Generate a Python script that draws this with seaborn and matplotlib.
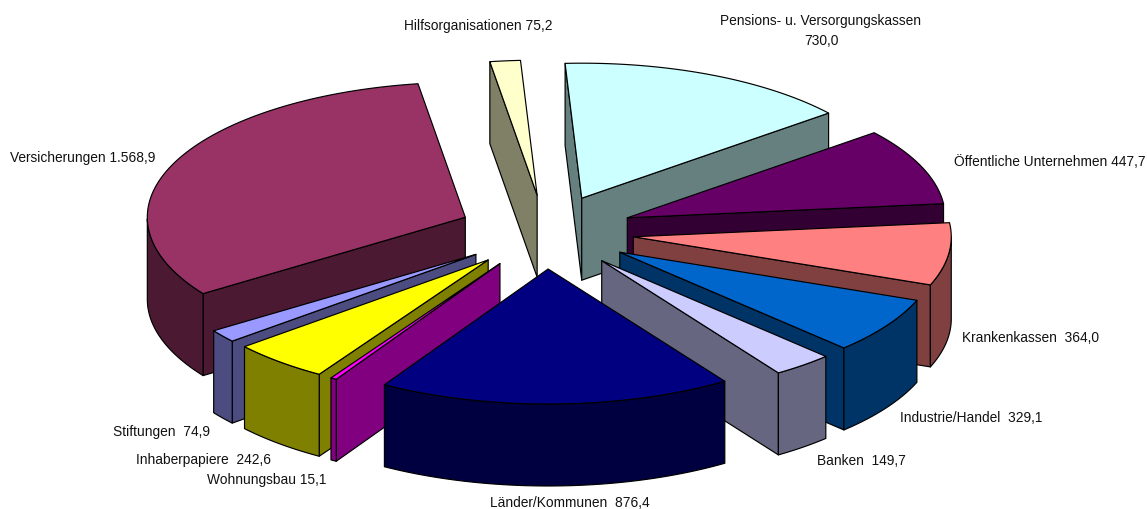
import numpy as np
import pandas as pd
import matplotlib
matplotlib.use("Agg")
import matplotlib.pyplot as plt
import seaborn as sns

categories = ["Pensions- u. Versorgungskassen", "Öffentliche Unternehmen", "Krankenkassen",
              "Industrie/Handel", "Banken", "Länder/Kommunen", "Wohnungsbau",
              "Inhaberpapiere", "Stiftungen", "Versicherungen", "Hilfsorganisationen"]
values = [730.0, 447.7, 364.0, 329.1, 149.7, 876.4, 15.1, 242.6, 74.9, 1568.9, 75.2]
top_colors = ["#CCFFFF", "#660066", "#FF8080", "#0066CC", "#CCCCFF", "#000080",
              "#FF00FF", "#FFFF00", "#9999FF", "#993366", "#FFFFCC"]
side_colors = ["#668080", "#330033", "#804040", "#003366", "#666680", "#000040",
               "#800080", "#808000", "#4C4C80", "#4C1933", "#808066"]
labels = ["Pensions- u. Versorgungskassen\n730,0", "Öffentliche Unternehmen 447,7",
          "Krankenkassen  364,0", "Industrie/Handel  329,1", "Banken  149,7",
          "Länder/Kommunen  876,4", "Wohnungsbau 15,1", "Inhaberpapiere  242,6",
          "Stiftungen  74,9", "Versicherungen 1.568,9", "Hilfsorganisationen 75,2"]
label_pos = [(821, 31, "center"), (954, 162, "left"), (962, 338, "left"), (900, 418, "left"),
             (817, 461, "left"), (490, 503, "left"), (207, 480, "left"), (136, 460, "left"),
             (113, 432, "left"), (10, 158, "left"), (404, 26, "left")]
draw_order = ["Hilfsorganisationen", "Pensions- u. Versorgungskassen", "Öffentliche Unternehmen",
              "Krankenkassen", "Industrie/Handel", "Banken", "Versicherungen", "Stiftungen",
              "Inhaberpapiere", "Wohnungsbau", "Länder/Kommunen"]

CX, CY, RX, RY = 546, 232, 318, 135
EX, EY, DEPTH, ROT = 88, 37, 82, 3

df = pd.DataFrame({"cat": categories, "val": values, "top": top_colors, "side": side_colors})
df["end"] = np.cumsum(df["val"]) / df["val"].sum() * 360 - ROT
df["start"] = df["end"] - df["val"] / df["val"].sum() * 360

sns.set_theme(style="white")
plt.rcParams["font.family"] = ["Liberation Sans", "DejaVu Sans"]
fig = plt.figure(figsize=(11.47, 5.09), dpi=100)
ax = fig.add_axes([0, 0, 1, 1])
ax.set_xlim(0, 1147)
ax.set_ylim(509, 0)
ax.axis("off")
LW = 0.85


def shade(xs, ys, color, z):
    ax.fill(xs, ys, facecolor=color, edgecolor="black", linewidth=LW, joinstyle="round", zorder=z)


for z, name in enumerate(draw_order):
    row = df[df["cat"] == name].iloc[0]
    mid = np.radians((row["start"] + row["end"]) / 2)
    ax0 = CX + EX * np.sin(mid)
    ay0 = CY - EY * np.cos(mid)
    th = np.radians(np.linspace(row["start"], row["end"], 80))
    rx = ax0 + RX * np.sin(th)
    ry = ay0 - RY * np.cos(th)

    # radial walls: a wall shows when the slice lies above it on screen
    for px, py, other in ((rx[0], ry[0], (rx[-1], ry[-1])), (rx[-1], ry[-1], (rx[0], ry[0]))):
        dx, dy = px - ax0, py - ay0
        cross_other = dx * (other[1] - ay0) - dy * (other[0] - ax0)
        cross_down = dx * 1.0
        if cross_other * cross_down < 0:
            shade([ax0, px, px, ax0], [ay0, py, py + DEPTH, ay0 + DEPTH], row["side"], z)

    # outer wall: only the front half of the rim
    front = np.cos(th) < 0
    if front.any():
        fx, fy = rx[front], ry[front]
        shade(np.r_[fx, fx[::-1]], np.r_[fy, fy[::-1] + DEPTH], row["side"], z)

    # top face
    shade(np.r_[ax0, rx], np.r_[ay0, ry], row["top"], z)

for text, (x, y, ha) in zip(labels, label_pos):
    ax.text(x, y, text, ha=ha, va="center", fontsize=9.95, color="#111111",
            linespacing=1.5, zorder=50)

sns.despine(ax=ax, left=True, bottom=True)
fig.savefig("out.png", dpi=100, facecolor="white")
